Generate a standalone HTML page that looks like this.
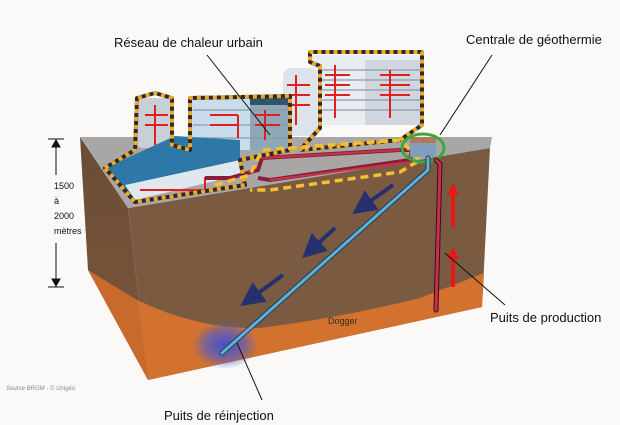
<!DOCTYPE html>
<html><head><meta charset="utf-8"><style>
html,body{margin:0;padding:0;background:#fbf9f8;}
svg{display:block;}
text{font-family:"Liberation Sans",sans-serif;fill:#111;}
</style></head><body>
<svg width="620" height="425" viewBox="0 0 620 425" xmlns="http://www.w3.org/2000/svg">
<defs>
<linearGradient id="lbrown" x1="0" y1="0" x2="0" y2="1">
<stop offset="0" stop-color="#6a4d36"/><stop offset="1" stop-color="#7a563a"/>
</linearGradient>
<radialGradient id="blob" cx="0.5" cy="0.5" r="0.5">
<stop offset="0" stop-color="#3a4ad8" stop-opacity="0.95"/><stop offset="0.6" stop-color="#4a5ad0" stop-opacity="0.6"/><stop offset="1" stop-color="#5060c0" stop-opacity="0"/>
</radialGradient>
<marker id="ab" markerWidth="6" markerHeight="6" refX="3" refY="3" orient="auto"><path d="M0,0 L6,3 L0,6z" fill="#27306e"/></marker>
</defs>
<rect width="620" height="425" fill="#fbf9f8"/>
<!-- left face -->
<polygon points="80,137 128,208 148,380 88,270" fill="url(#lbrown)"/>
<polygon points="88,270 137,300 148,380" fill="#c86a2c"/>
<!-- front face -->
<polygon points="128,208 490,148 482,307 148,380" fill="#7a5b42"/>
<!-- orange layer -->
<path d="M137,300 Q200,330 260,328 Q340,318 420,298 L484,273 L482,307 L148,380 Z" fill="#d2722e"/>
<ellipse cx="225" cy="345" rx="33" ry="24" fill="url(#blob)"/>
<!-- top face -->
<polygon points="80,137 492,137 490,148 128,208" fill="#a9a7a6"/>
<!-- buildings -->
<rect x="310" y="55" width="112" height="70" fill="#e8ecf0"/>
<rect x="365" y="60" width="57" height="65" fill="#cfd6de"/>
<rect x="283" y="68" width="35" height="68" rx="8" fill="#dde3ea"/>
<rect x="190" y="98" width="100" height="52" fill="#c8dcec"/>
<rect x="250" y="95" width="42" height="55" fill="#8ea8b8"/>
<rect x="250" y="95" width="42" height="10" fill="#2f5566"/>
<rect x="137" y="98" width="35" height="50" rx="6" fill="#c8cfd6"/>
<g stroke="#8a9aae" stroke-width="1.2">
<line x1="318" y1="70" x2="420" y2="70"/><line x1="318" y1="80" x2="420" y2="80"/><line x1="318" y1="90" x2="420" y2="90"/><line x1="318" y1="100" x2="420" y2="100"/><line x1="318" y1="110" x2="420" y2="110"/>
<line x1="193" y1="110" x2="288" y2="110"/><line x1="193" y1="125" x2="288" y2="125"/><line x1="193" y1="138" x2="288" y2="138"/>
</g>
<polygon points="105,168 175,136 240,140 240,165 135,200" fill="#2e78a8"/>
<polygon points="125,185 240,160 240,175 135,200" fill="#dfe8ee"/>
<!-- red internal pipes -->
<g stroke="#e02020" stroke-width="2" fill="none">
<path d="M335,65 V118 M325,75 H350 M325,85 H350 M325,95 H350 M390,70 V118 M380,75 H410 M380,85 H410 M380,95 H410 M296,75 V125 M287,85 H310 M287,95 H310 M287,105 H310"/>
<path d="M155,105 V145 M145,115 H168 M145,125 H168 M238,115 V138 M210,115 H238 M210,125 H238 M265,110 V140 M255,115 H280 M255,125 H280"/>
<path d="M140,190 H205 V178 H215"/>
</g>
<!-- district pipe loop -->
<path d="M205,178 H230 L258,170 L262,158 L400,150 L412,150 L410,160 L270,180 L258,178" stroke="#8a1e3a" stroke-width="4" fill="none"/>
<path d="M262,158 L400,150 M270,180 L410,162" stroke="#c8354a" stroke-width="2" fill="none"/>
<!-- dashed outlines -->
<g fill="none" stroke-linejoin="round">
<path d="M300,150 L320,128 L320,66 L310,62 L310,52 L422,52 L422,125 L400,140 L300,150" stroke="#2a2a30" stroke-width="4"/>
<path d="M300,150 L320,128 L320,66 L310,62 L310,52 L422,52 L422,125 L400,140 L300,150" stroke="#f0a828" stroke-width="4" stroke-dasharray="4,4"/>
<path d="M105,168 L135,150 L137,98 L155,93 L172,98 L172,145 L190,150 L190,98 L290,96 L290,150 L240,160 L245,185 L135,202 Z" stroke="#2a2a30" stroke-width="4"/>
<path d="M105,168 L135,150 L137,98 L155,93 L172,98 L172,145 L190,150 L190,98 L290,96 L290,150 L240,160 L245,185 L135,202 Z" stroke="#f0a828" stroke-width="4" stroke-dasharray="4,4"/>
<path d="M215,185 L250,175 L262,150 L400,140 L420,160 L400,172 L270,190 L250,190" stroke="#f4c030" stroke-width="3.5" stroke-dasharray="8,5"/>
</g>
<!-- central -->
<rect x="410" y="140" width="26" height="17" fill="#7fa0b8"/>
<rect x="410" y="137" width="26" height="6" fill="#b07a5a"/>
<ellipse cx="423" cy="148" rx="21" ry="14" fill="none" stroke="#3aa83a" stroke-width="3"/>
<!-- wells -->
<path d="M428,158 L428,170 L222,353" stroke="#1e3c50" stroke-width="5" fill="none" stroke-linecap="round"/>
<path d="M428,158 L428,170 L222,353" stroke="#5fb0d8" stroke-width="3" fill="none" stroke-linecap="round"/>
<path d="M436,160 L440,164 L436,310" stroke="#3a0e1a" stroke-width="5" fill="none" stroke-linecap="round"/>
<path d="M436,160 L440,164 L436,310" stroke="#c8304a" stroke-width="3" fill="none" stroke-linecap="round"/>
<!-- flow arrows -->
<g stroke="#27306e" stroke-width="4" marker-end="url(#ab)">
<line x1="393" y1="185" x2="362" y2="207"/>
<line x1="335" y1="228" x2="311" y2="250"/>
<line x1="283" y1="275" x2="250" y2="299"/>
</g>
<g fill="#e81818">
<rect x="451" y="193" width="4" height="34"/><polygon points="447,195 459,195 453,183"/>
<rect x="451" y="257" width="4" height="30"/><polygon points="447,259 459,259 453,247"/>
</g>
<!-- dimension -->
<g stroke="#111" stroke-width="1" fill="#111">
<line x1="56" y1="140" x2="56" y2="175"/><line x1="56" y1="243" x2="56" y2="287"/>
<line x1="48" y1="139" x2="64" y2="139"/><line x1="48" y1="287" x2="64" y2="287"/>
<polygon points="52,147 60,147 56,140"/><polygon points="52,279 60,279 56,286"/>
</g>
<text x="54" y="189" font-size="9">1500</text>
<text x="54" y="204" font-size="9">à</text>
<text x="54" y="219" font-size="9">2000</text>
<text x="54" y="234" font-size="9">mètres</text>
<!-- leaders -->
<g stroke="#111" stroke-width="1">
<line x1="207" y1="55" x2="270" y2="135"/>
<line x1="492" y1="55" x2="440" y2="135"/>
<line x1="505" y1="305" x2="445" y2="253"/>
<line x1="262" y1="400" x2="237" y2="343"/>
</g>
<text x="114" y="47" font-size="13">Réseau de chaleur urbain</text>
<text x="466" y="44" font-size="13">Centrale de géothermie</text>
<text x="490" y="322" font-size="13">Puits de production</text>
<text x="164" y="420" font-size="13">Puits de réinjection</text>
<text x="328" y="324" font-size="9" style="fill:#3a2a20">Dogger</text>
<text x="6" y="390" font-size="6" font-style="italic" style="fill:#888">Source BRGM - © Unigéo</text>
</svg>
</body></html>
